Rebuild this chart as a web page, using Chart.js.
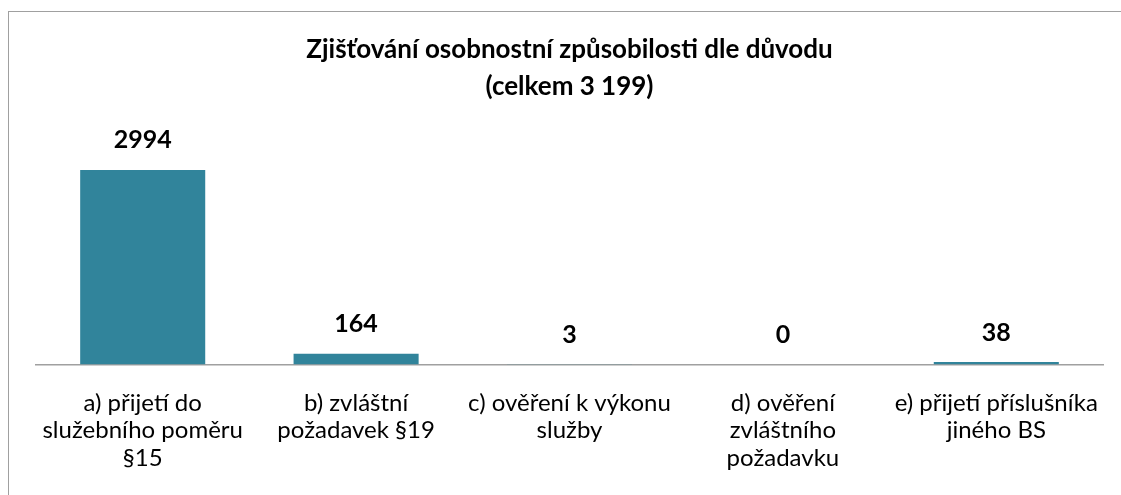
<!DOCTYPE html>
<html>
<head>
<meta charset="utf-8">
<script src="https://cdn.jsdelivr.net/npm/chart.js@4.4.1/dist/chart.umd.min.js"></script>
<style>
  body { margin: 0; background: #fff; }
  #wrap { position: relative; width: 1121px; height: 495px; overflow: hidden; }
  #frame { position: absolute; left: 8px; top: 11px; width: 1200px; height: 600px;
           border-left: 1.5px solid #a0a0a0; border-top: 1.5px solid #a0a0a0; }
  #c { position: absolute; left: 0; top: 0; }
</style>
</head>
<body>
<div id="wrap">
  <div id="frame"></div>
  <canvas id="c" width="1121" height="495"></canvas>
</div>
<script>
const categories = [
  ["a) přijetí do", "služebního poměru", "§15"],
  ["b) zvláštní", "požadavek §19"],
  ["c) ověření k výkonu", "služby"],
  ["d) ověření", "zvláštního", "požadavku"],
  ["e) přijetí příslušníka", "jiného BS"]
];
const counts = [2994, 164, 3, 0, 38];
const titleLines = ["Zjišťování osobnostní způsobilosti dle důvodu", "(celkem 3 199)"];

const FONT = "Lato, 'Noto Sans', sans-serif";

// value labels above the bars
const barValues = {
  id: "barValues",
  afterDatasetsDraw(chart) {
    const ctx = chart.ctx;
    const meta = chart.getDatasetMeta(0);
    ctx.save();
    ctx.font = "bold 25px " + FONT;
    ctx.fillStyle = "#000";
    ctx.textAlign = "center";
    ctx.textBaseline = "bottom";
    meta.data.forEach((bar, i) => {
      ctx.fillText(String(counts[i]), bar.x, bar.y - 17);
    });
    ctx.restore();
  }
};

const chart = new Chart(document.getElementById("c"), {
  type: "bar",
  data: {
    labels: categories,
    datasets: [{
      data: counts,
      backgroundColor: "#31849b",
      categoryPercentage: 1,
      barPercentage: 0.586
    }]
  },
  options: {
    responsive: false,
    animation: false,
    layout: { padding: { left: 36, right: 18, top: 0, bottom: 6 } },
    scales: {
      x: {
        grid: { display: false },
        border: { display: true, color: "#a0a0a0", width: 1.5 },
        ticks: {
          color: "#000",
          padding: 17,
          maxRotation: 0,
          autoSkip: false,
          font: { family: FONT, size: 24, lineHeight: "27.5px" }
        }
      },
      y: {
        display: false,
        min: 0,
        max: 3500
      }
    },
    plugins: {
      legend: { display: false },
      tooltip: { enabled: false },
      title: {
        display: true,
        text: titleLines,
        color: "#000",
        padding: { top: 31, bottom: 32 },
        font: { family: FONT, size: 26, weight: "bold", lineHeight: "37px" }
      }
    }
  },
  plugins: [barValues]
});
</script>
</body>
</html>
